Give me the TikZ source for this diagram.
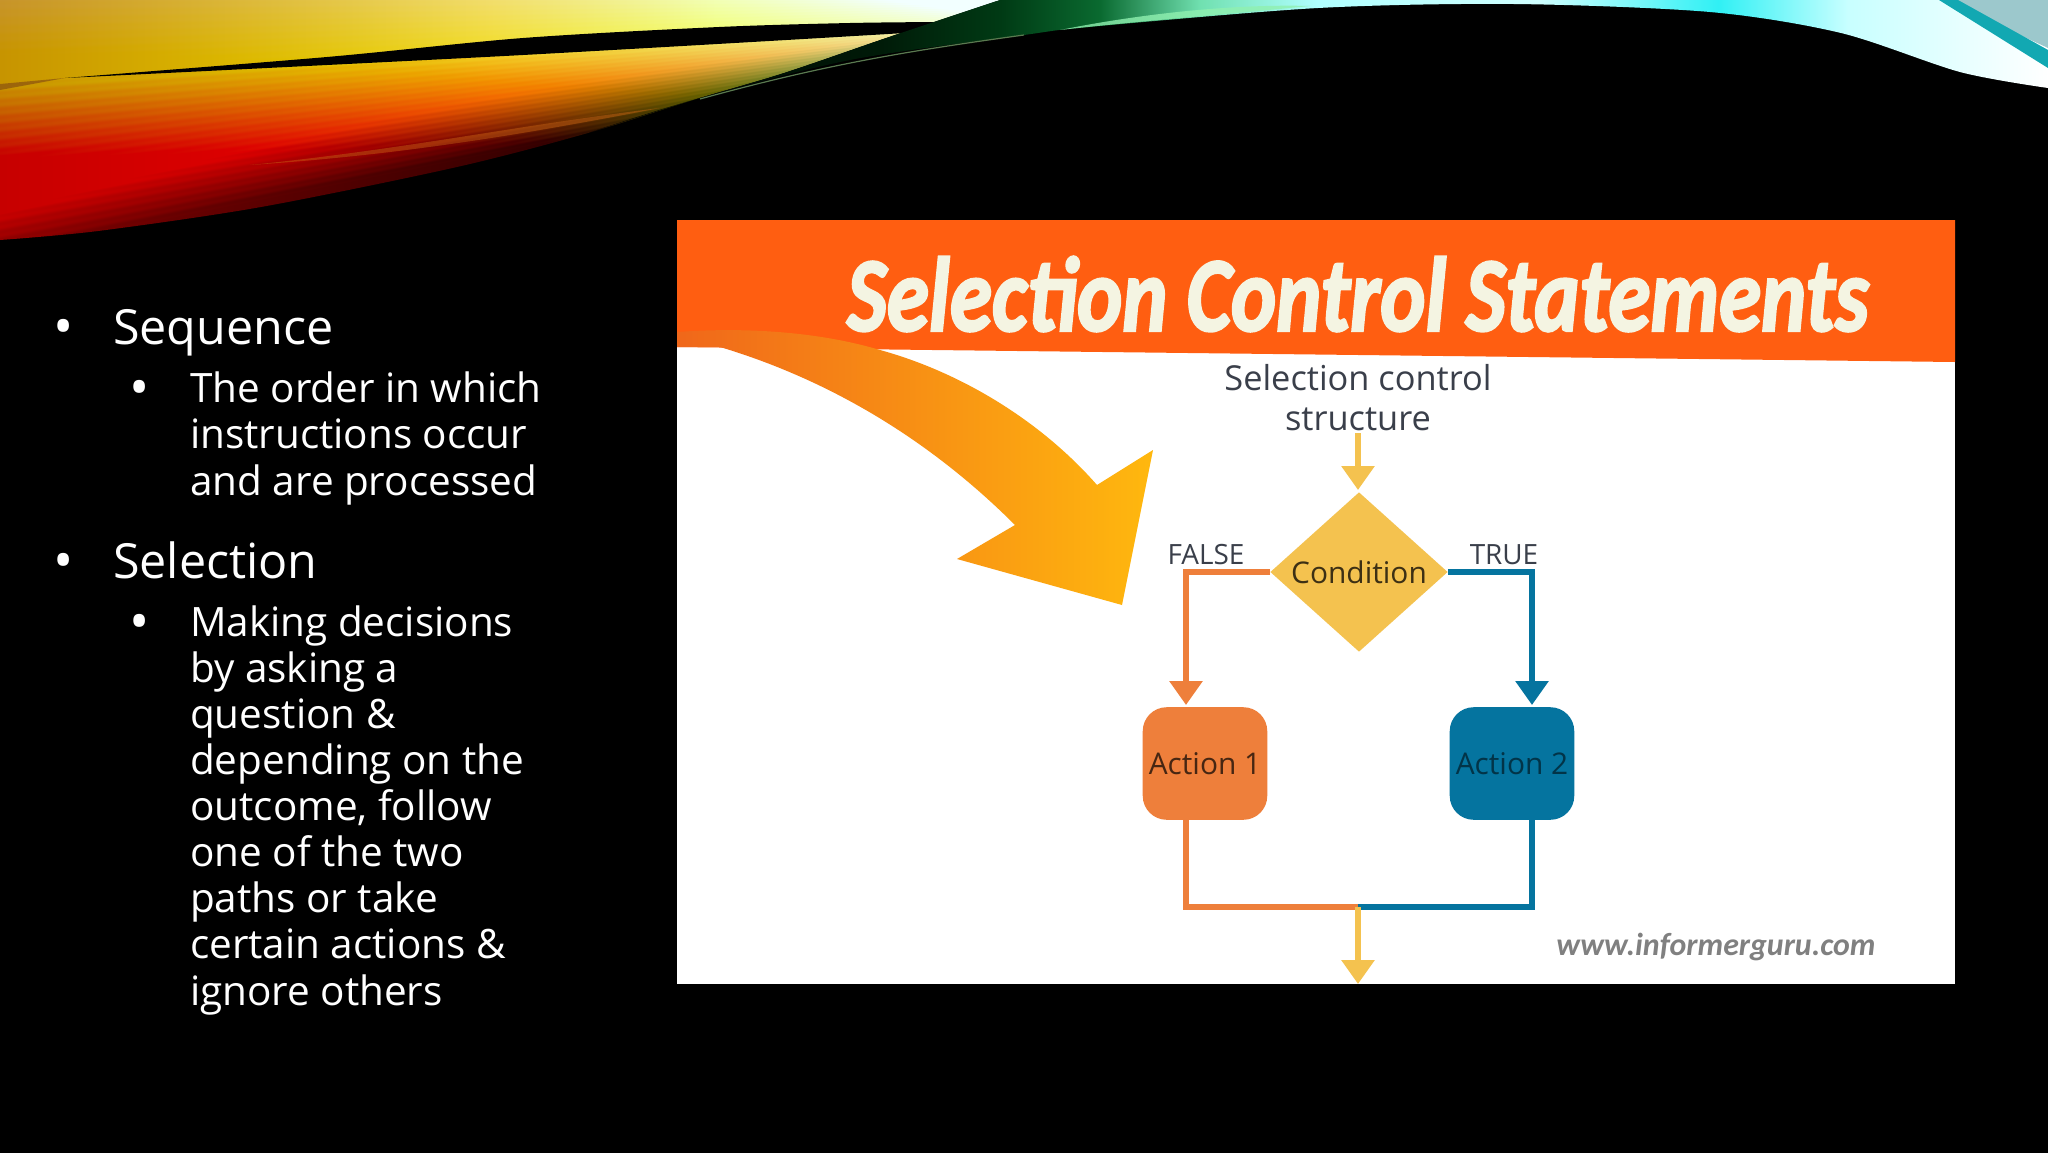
\documentclass[tikz,border=0pt]{standalone}
\usepackage{fontspec}
\usepackage{graphicx}
\setmainfont{Open Sans}
\newfontfamily\carl{Carlito}
\newfontfamily\titlefont[FakeBold=2.5]{Carlito}
\usetikzlibrary{arrows.meta,shapes.geometric}
\definecolor{banner}{HTML}{FF5E11}
\definecolor{ayellow}{HTML}{F4C24F}
\definecolor{aorange}{HTML}{EE7F3B}
\definecolor{ablue}{HTML}{05749F}
\definecolor{inkdark}{HTML}{3A3F4A}
\definecolor{cream}{HTML}{F4F4E2}
\definecolor{bigleft}{HTML}{F0671A}
\definecolor{bigright}{HTML}{FFB80E}
\definecolor{wedgepale}{HTML}{9CC8CC}
\definecolor{wedgeteal}{HTML}{12A8B2}
\definecolor{dk1}{HTML}{001A08}
\definecolor{dk2}{HTML}{003A14}
\definecolor{dk3}{HTML}{0A6A30}
\definecolor{lt1}{HTML}{70E0B0}
\definecolor{lt2}{HTML}{B0FFFF}
\definecolor{lt3}{HTML}{D0FFFF}
\definecolor{lt4}{HTML}{30F0F4}
\definecolor{lt5}{HTML}{C8FFFF}
\definecolor{streakbrown}{HTML}{C86414}
\definecolor{trailbrown}{HTML}{8A5210}
\definecolor{edgeline}{HTML}{5A7A50}
\definecolor{brightleaf}{HTML}{90F0B0}
\pgfdeclarefunctionalshading{swleft}{\pgfpointorigin}{\pgfpoint{1010bp}{245bp}}{}{
 245 exch sub
 1 index 0.2 mul 250 exch sub
 div
 exch 1024 div exch
 dup 11000 mul sin 0.010 mul add
 dup 1 gt {pop 1} if
 1 index 0.55 mul 0.5 exch sub
 1 index 1 exch sub 2 mul add
 2 index 0.35 mul 0.78 add
 dup 0.95 gt {pop 0.95} if
 2 copy gt {exch} if pop
 dup 0 lt {pop 0} if
 2 index 1.5 mul 2.1 exch sub
 2 index mul
 1.3 exch sub
 3 index 0.6 mul 0.58 add
 2 copy gt {exch} if pop
 dup 0 lt {pop 0} if
 3 index dup mul 1.1 mul 0.17 add
 3 index 0.8 mul sub
 dup 0 lt {pop 0} if
 5 -2 roll pop pop
}
\pgfdeclarehorizontalshading{swright}{140bp}{
 color(0bp)=(black);
 color(290bp)=(dk1);
 color(412bp)=(dk2);
 color(512bp)=(dk3);
 color(612bp)=(lt1);
 color(730bp)=(lt2);
 color(950bp)=(lt3);
 color(1130bp)=(lt4);
 color(1260bp)=(lt5);
 color(1460bp)=(white)
}
\tikzset{
 sublist/.style={anchor=base west,inner sep=0pt,align=left,text=white,font=\fontsize{40.6}{46.2}\selectfont},
 toplist/.style={anchor=base west,inner sep=0pt,text=white,font=\fontsize{48.6}{50}\selectfont},
 bulletmark/.style={anchor=center,inner sep=0pt,text=white,font=\fontsize{54}{54}\selectfont},
 flowtext/.style={inner sep=0pt,text=inkdark,font=\fontsize{34.5}{40}\selectfont,align=center},
 flowlabel/.style={inner sep=0pt,text=inkdark,font=\fontsize{28}{28}\selectfont},
 actionbox/.style={draw=none,rounded corners=24,minimum width=125,minimum height=113,inner sep=0pt,font=\fontsize{30}{30}\selectfont},
 flow/.style={line width=6.5,line join=miter},
 flowtip/.style={flow,-{Triangle[length=24,width=32]}}
}
\begin{document}
\begin{tikzpicture}[x=1bp,y=-1bp]
\useasboundingbox (0,0) rectangle (2048,1152);
\fill[black] (-10,-10) rectangle (2060,1165);
% swoosh, warm part
\begin{scope}
 \clip (0,0) -- (1000,0) -- plot[smooth,tension=.5] coordinates {(1000,0) (889,37) (784,73) (693,100) (588,133) (457,167) (261,207) (98,231) (0,240)} -- cycle;
 \node[anchor=south west,inner sep=0pt,outer sep=0pt] at (0,245) {\pgfuseshading{swleft}};
 \fill[streakbrown,opacity=.45] (250,165) .. controls (400,150) and (520,125) .. (660,108) .. controls (520,135) and (400,155) .. cycle;
\end{scope}
\fill[trailbrown,opacity=.7] (0,90) -- (65,78) -- (0,84) -- cycle;
\fill[black] plot[smooth,tension=.5] coordinates {(65,78) (327,57) (523,38) (719,27) (850,23) (940,22)} -- (905,33) -- plot[smooth,tension=.5] coordinates {(905,33) (752,42) (523,55) (327,65) (65,78)} -- cycle;
% swoosh, cool part
\begin{scope}
 \clip (1000,0) -- (2048,0) -- plot[smooth,tension=.5] coordinates {(2048,88) (1960,72) (1841,33) (1710,12) (1514,4) (1318,8) (1089,27) (1024,35) (850,60) (693,100) (588,133)} -- plot[smooth,tension=.5] coordinates {(588,133) (693,100) (784,73) (889,37) (1000,0)} -- cycle;
 \node[anchor=south west,inner sep=0pt,outer sep=0pt] at (588,140) {\pgfuseshading{swright}};
\end{scope}
\fill[brightleaf,opacity=.8] (1060,30) .. controls (1150,12) and (1240,4) .. (1310,6) .. controls (1230,14) and (1150,20) .. cycle;
\draw[edgeline,line width=1.2] (700,99) .. controls (820,66) and (900,52) .. (1024,35);
\fill[wedgepale] (1945,0) -- (2048,0) -- (2048,48) -- cycle;
\fill[wedgeteal] (1939,0) -- (1958,0) -- (2048,50) -- (2048,68) -- cycle;
% picture
\fill[white] (677,220) rectangle (1955,984);
\fill[banner] (677,220) -- (1955,220) -- (1955,362) -- (677,347) -- cycle;
\shade[left color=bigleft,right color=bigright] (677,332) .. controls (760,326) and (830,335) .. (880,350) .. controls (960,372) and (1040,420) .. (1097,485) -- (1153,450) -- (1122,605) -- (957,559) -- (1015,525) .. controls (930,440) and (830,380) .. (720,347) -- (677,347) -- cycle;
\node[inner sep=0pt,text=cream] (ttl) at (1358,294) {\scalebox{.81}[1]{\titlefont\fontsize{106}{106}\selectfont\bfseries\itshape Selection Control Statements}};
\node[flowtext] (top) at (1358,398) {Selection control\\structure};
\node[diamond,aspect=1.1,fill=ayellow,minimum width=178,minimum height=160,inner sep=0pt,text=black!75!ayellow,font=\fontsize{30}{30}\selectfont] (cond) at (1359,572) {Condition};
\node[flowlabel] (false) at (1206,555) {FALSE};
\node[flowlabel] (true) at (1504,555) {TRUE};
\node[actionbox,fill=aorange,text=black!70!aorange] (act1) at (1205,763.5) {Action 1};
\node[actionbox,fill=ablue,text=black!55!ablue] (act2) at (1512,763.5) {Action 2};
\node[inner sep=0pt,text=black!50] (www) at (1716,947) {\carl\fontsize{32}{32}\selectfont\bfseries\itshape www.informerguru.com};
\coordinate (startin) at (1358,433);
\coordinate (condin) at (1358,490);
\coordinate (falsein) at (1186,705);
\coordinate (truein) at (1532,705);
\coordinate (falseout) at (1186,820);
\coordinate (trueout) at (1532,820);
\coordinate (merge) at (1358,907);
\coordinate (finish) at (1358,984);
\draw[flowtip,ayellow] (startin) -- (condin);
\draw[flowtip,aorange] (cond.west) -| (falsein);
\draw[flowtip,ablue] (cond.east) -| (truein);
\draw[flow,aorange] (falseout) |- (merge);
\draw[flow,ablue] (trueout) |- (merge);
\draw[flowtip,ayellow] (merge) -- (finish);
% text
\node[bulletmark] (b1) at (64,332) {•};
\node[toplist] (seq) at (113,344) {Sequence};
\node[bulletmark] (b2) at (140,393) {•};
\node[sublist] (seqtxt) at (190,495) {The order in which\\instructions occur\\and are processed};
\node[bulletmark] (b3) at (64,566) {•};
\node[toplist] (sel) at (113,578) {Selection};
\node[bulletmark] (b4) at (140,627) {•};
\node[sublist] (seltxt) at (190,1005) {Making decisions\\by asking a\\question \&\\depending on the\\outcome, follow\\one of the two\\paths or take\\certain actions \&\\ignore others};
\end{tikzpicture}
\end{document}
